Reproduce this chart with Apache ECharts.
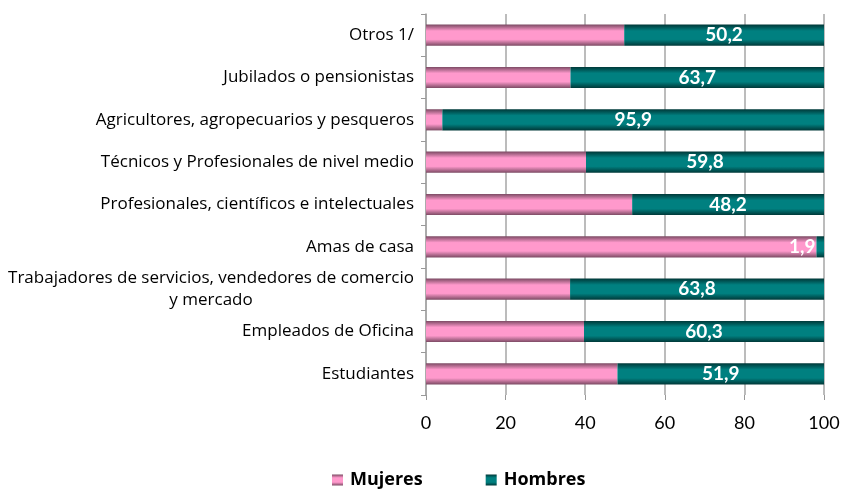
<!DOCTYPE html>
<html>
<head>
<meta charset="utf-8">
<script src="https://cdn.jsdelivr.net/npm/echarts@6/dist/echarts.min.js"></script>
<style>
	html, body { margin: 0; padding: 0; background: #fff; }
	#chart { width: 845px; height: 489px; }
</style>
</head>
<body>
<div id="chart"></div>
<script>
	// categorias de arriba hacia abajo
	var categorias = [
		'Otros 1/',
		'Jubilados o pensionistas',
		'Agricultores, agropecuarios y pesqueros',
		'Técnicos y Profesionales de nivel medio',
		'Profesionales, científicos e intelectuales',
		'Amas de casa',
		'Trabajadores de servicios, vendedores de comercio\ny mercado',
		'Empleados de Oficina',
		'Estudiantes'
	];
	var mujeres = [49.8, 36.3, 4.1, 40.2, 51.8, 98.1, 36.2, 39.7, 48.1];
	var hombres = [50.2, 63.7, 95.9, 59.8, 48.2, 1.9, 63.8, 60.3, 51.9];
	var ticksX = [0, 20, 40, 60, 80, 100];

	var fuente = 'Lato, "Open Sans", sans-serif';
	var fuenteAncha = '"Open Sans", sans-serif';

	function degradado(borde, centro) {
		return new echarts.graphic.LinearGradient(0, 0, 0, 1, [
			{ offset: 0, color: borde },
			{ offset: 0.3, color: centro },
			{ offset: 0.7, color: centro },
			{ offset: 1, color: borde }
		]);
	}

	var myChart = echarts.init(document.getElementById('chart'));

	var datosHombres = hombres.map(function (v) {
		if (v < 5) {
			// etiqueta chica se corre a la izquierda, como en el original
			return { value: v, label: { position: 'left', distance: 1 } };
		}
		return v;
	});

	var option = {
		backgroundColor: '#fff',
		animation: false,
		textStyle: { fontFamily: fuente },
		grid: {
			left: 426,
			right: 21,
			top: 14,
			bottom: 94,
			containLabel: false
		},
		legend: {
			top: 466,
			left: 327,
			itemWidth: 11,
			itemHeight: 11,
			itemGap: 63,
			icon: 'rect',
			textStyle: { fontFamily: fuenteAncha, fontSize: 18, fontWeight: 'bold', color: '#000', padding: [0, 0, 0, 2] },
			data: ['Mujeres', 'Hombres']
		},
		xAxis: {
			type: 'value',
			min: 0,
			max: 100,
			interval: 20,
			axisLine: { show: false },
			axisTick: { show: true, length: 5, lineStyle: { color: '#999' } },
			splitLine: { show: true, lineStyle: { color: '#a6a6a6', width: 1.5 } },
			axisLabel: {
				color: '#000',
				fontSize: 18,
				margin: 19,
				fontFamily: fuente,
				customValues: ticksX
			}
		},
		yAxis: {
			type: 'category',
			inverse: true,
			data: categorias,
			axisLine: { show: true, lineStyle: { color: '#a6a6a6', width: 1.5 } },
			axisTick: { show: true, length: 5, lineStyle: { color: '#999' } },
			axisLabel: {
				color: '#000',
				fontSize: 17,
				margin: 12,
				fontFamily: fuenteAncha,
				formatter: function (val) {
					var partes = val.split('\n');
					if (partes.length > 1) {
						return '{a|' + partes[0] + '}\n{c|' + partes[1] + '}';
					}
					return val;
				},
				rich: {
					a: { fontSize: 17, color: '#000', fontFamily: fuenteAncha, lineHeight: 22 },
					c: { fontSize: 17, color: '#000', fontFamily: fuenteAncha, align: 'center', lineHeight: 22 }
				}
			}
		},
		series: [
			{
				name: 'Mujeres',
				type: 'bar',
				stack: 'total',
				barWidth: '50%',
				itemStyle: { color: degradado('#7b4a63', '#ff99cc') },
				data: mujeres
			},
			{
				name: 'Hombres',
				type: 'bar',
				stack: 'total',
				barWidth: '50%',
				itemStyle: { color: degradado('#003838', '#008080') },
				label: {
					show: true,
					position: 'inside',
					color: '#fff',
					fontSize: 19,
					fontWeight: 'bold',
					fontFamily: fuente,
					formatter: function (p) {
						return String(p.value).replace('.', ',');
					}
				},
				data: datosHombres
			}
		]
	};
	myChart.setOption(option);
</script>
</body>
</html>
